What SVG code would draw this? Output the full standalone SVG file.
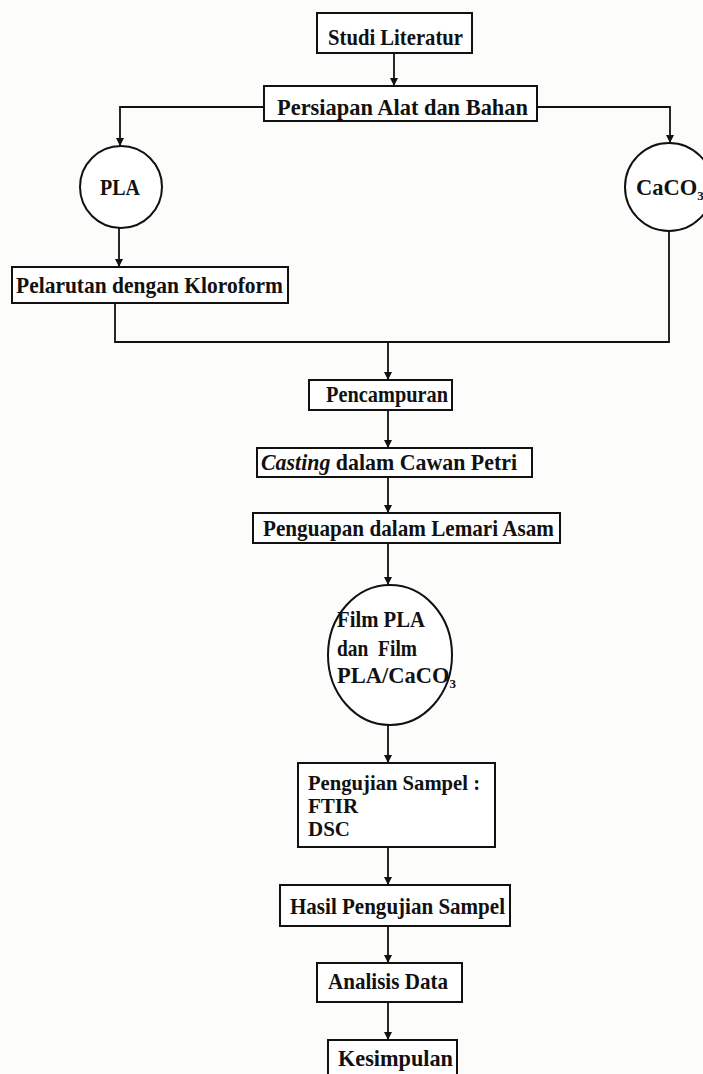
<svg xmlns="http://www.w3.org/2000/svg" width="703" height="1074" viewBox="0 0 703 1074">
<defs>
<marker id="ah" viewBox="0 0 8 12" refX="8" refY="6" markerWidth="8" markerHeight="12" markerUnits="userSpaceOnUse" orient="auto">
<path d="M0,2 L8,6 L0,10 Z" fill="#111"/>
</marker>
</defs>
<style>
.box{fill:#fff;stroke:#111;stroke-width:2}
.ln{fill:none;stroke:#111;stroke-width:1.8}
.arr{fill:none;stroke:#111;stroke-width:1.8;marker-end:url(#ah)}
text{font-family:"Liberation Serif","Times New Roman",serif;font-weight:bold;font-size:22.5px;fill:#111}
.sm{font-size:21px}
.sub{font-size:13px}
</style>
<rect width="703" height="1074" fill="#fcfcfb"/>
<g id="connectors">
<line class="arr" x1="394" y1="53" x2="394" y2="86"/>
<polyline class="arr" points="264,107 120,107 120,146"/>
<polyline class="arr" points="537,107 670,107 670,143"/>
<line class="arr" x1="119" y1="228" x2="119" y2="267"/>
<polyline class="ln" points="115,303 115,342 669,342 669,231"/>
<line class="arr" x1="388" y1="342" x2="388" y2="380"/>
<line class="arr" x1="388" y1="410" x2="388" y2="448"/>
<line class="arr" x1="388" y1="477" x2="388" y2="513"/>
<line class="arr" x1="388" y1="543" x2="388" y2="585"/>
<line class="arr" x1="388" y1="725" x2="388" y2="763"/>
<line class="arr" x1="388" y1="847" x2="388" y2="885"/>
<line class="arr" x1="388" y1="926" x2="388" y2="963"/>
<line class="arr" x1="388" y1="1002" x2="388" y2="1040"/>
</g>
<g id="studi">
<rect class="box" x="317" y="13" width="155" height="40"/>
<text x="328" y="45" textLength="135" lengthAdjust="spacingAndGlyphs">Studi Literatur</text>
</g>
<g id="persiapan">
<rect class="box" x="264" y="86" width="273" height="35"/>
<text x="277" y="115" textLength="251" lengthAdjust="spacingAndGlyphs">Persiapan Alat dan Bahan</text>
</g>
<g id="pla">
<circle class="box" cx="121" cy="187" r="41"/>
<text x="100" y="195" textLength="40" lengthAdjust="spacingAndGlyphs">PLA</text>
</g>
<g id="caco3">
<circle class="box" cx="669" cy="187" r="44"/>
<text x="636" y="195" font-size="20.5">CaCO<tspan class="sub" dy="5">3</tspan></text>
</g>
<g id="pelarutan">
<rect class="box" x="12" y="267" width="276" height="36"/>
<text x="16" y="293" textLength="267" lengthAdjust="spacingAndGlyphs">Pelarutan dengan Kloroform</text>
</g>
<g id="pencampuran">
<rect class="box" x="309" y="380" width="143" height="30"/>
<text x="326" y="402" textLength="122" lengthAdjust="spacingAndGlyphs">Pencampuran</text>
</g>
<g id="casting">
<rect class="box" x="257" y="448" width="275" height="29"/>
<text x="261" y="470" textLength="256" lengthAdjust="spacingAndGlyphs"><tspan font-style="italic">Casting</tspan> dalam Cawan Petri</text>
</g>
<g id="penguapan">
<rect class="box" x="253" y="513" width="307" height="30"/>
<text x="263" y="536" textLength="291" lengthAdjust="spacingAndGlyphs">Penguapan dalam Lemari Asam</text>
</g>
<g id="film">
<ellipse class="box" cx="390" cy="655" rx="62" ry="70"/>
<text x="337" y="627" textLength="88" lengthAdjust="spacingAndGlyphs">Film PLA</text>
<text x="337" y="656" textLength="80" lengthAdjust="spacingAndGlyphs" xml:space="preserve">dan  Film</text>
<text x="337" y="683" font-size="20.5">PLA/CaCO<tspan class="sub" dy="5">3</tspan></text>
</g>
<g id="pengujian">
<rect class="box" x="298" y="763" width="197" height="84"/>
<text class="sm" x="308" y="790" textLength="172" lengthAdjust="spacingAndGlyphs">Pengujian Sampel :</text>
<text class="sm" x="308" y="813">FTIR</text>
<text class="sm" x="308" y="836">DSC</text>
</g>
<g id="hasil">
<rect class="box" x="280" y="885" width="230" height="41"/>
<text x="290" y="914" textLength="215" lengthAdjust="spacingAndGlyphs">Hasil Pengujian Sampel</text>
</g>
<g id="analisis">
<rect class="box" x="317" y="963" width="145" height="39"/>
<text x="328" y="989" textLength="120" lengthAdjust="spacingAndGlyphs">Analisis Data</text>
</g>
<g id="kesimpulan">
<rect class="box" x="328" y="1040" width="129" height="40"/>
<text x="338" y="1066" textLength="115" lengthAdjust="spacingAndGlyphs">Kesimpulan</text>
</g>
</svg>
